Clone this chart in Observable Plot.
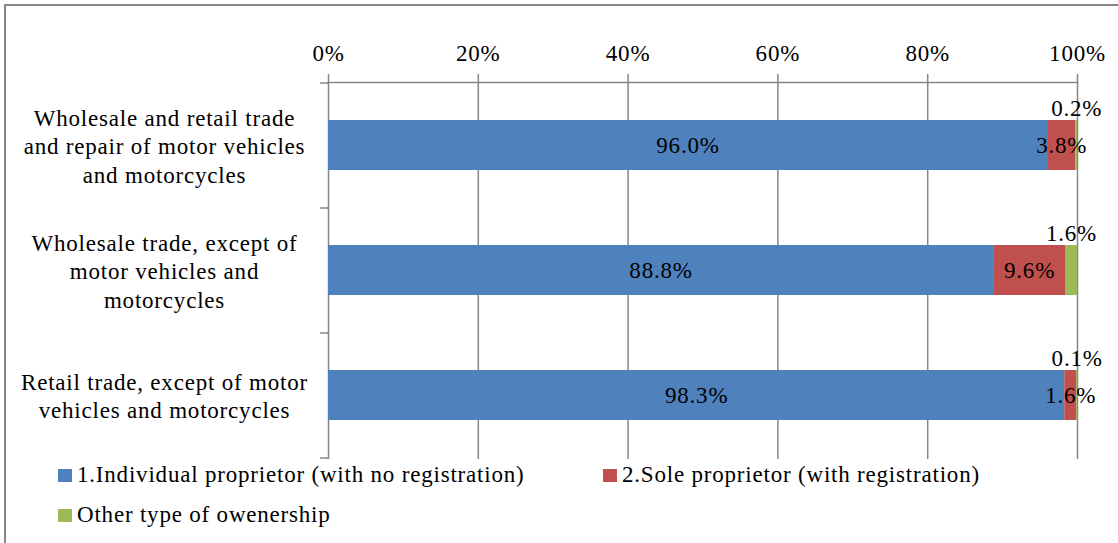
<!DOCTYPE html>
<html><head><meta charset="utf-8">
<script src="https://cdn.jsdelivr.net/npm/d3@7"></script>
<script src="https://cdn.jsdelivr.net/npm/@observablehq/plot@0.6"></script>
<style>
body{margin:0;background:#fff;font-family:"Liberation Serif","Times New Roman",serif;overflow:hidden;}
#frame{position:absolute;left:4px;top:4px;width:1300px;height:700px;border-left:2px solid #868686;border-top:2px solid #868686;}
#chart{position:absolute;left:0;top:0;}
#legend{position:absolute;left:0;top:0;width:1118px;height:543px;font-size:23px;letter-spacing:0.8px;color:#000;}
.item{position:absolute;display:flex;align-items:center;white-space:nowrap;height:30px;}
.sw{display:inline-block;width:14px;height:13px;margin-right:5px;}
</style></head><body>
<div id="frame"></div>
<div id="chart"></div>
<div id="legend"></div>
<script>
const categories = [
  "Wholesale and retail trade and repair of motor vehicles and motorcycles",
  "Wholesale trade, except of motor vehicles and motorcycles",
  "Retail trade, except of motor vehicles and motorcycles"
];
const tickLabels = [
  "Wholesale and retail trade\nand repair of motor vehicles\nand motorcycles",
  "Wholesale trade, except of\nmotor vehicles and\nmotorcycles",
  "Retail trade, except of motor\nvehicles and motorcycles"
];
const types = [
  "1.Individual proprietor (with no registration)",
  "2.Sole proprietor (with registration)",
  "Other type of owenership"
];
const colors = ["#4F81BD", "#C0504D", "#9BBB59"];
const individual = [96.0, 88.8, 98.3];
const sole = [3.8, 9.6, 1.6];
const other = [0.2, 1.6, 0.1];
const labelAbove = [false, false, true];
const xTicks = [0, 20, 40, 60, 80, 100];

const series = [individual, sole, other];
const rows = [];
categories.forEach((c, i) => {
  let acc = 0;
  series.forEach((s, k) => {
    rows.push({category: c, type: types[k], value: s[i], x1: acc, x2: acc + s[i], above: labelAbove[k]});
    acc += s[i];
  });
});

const gray = "#868686";
const bandTicks = (index, scales, values, dims) => {
  const y = scales.y;
  const bw = typeof y.bandwidth === "function" ? y.bandwidth() : y.bandwidth;
  const pos = categories.map(c => y(c));
  pos.push(y(categories[categories.length - 1]) + bw);
  const g = d3.create("svg:g").attr("stroke", gray).attr("stroke-width", 1.5);
  pos.forEach(p => g.append("line").attr("x1", dims.marginLeft - 8).attr("x2", dims.marginLeft).attr("y1", p).attr("y2", p));
  return g.node();
};

const chart = Plot.plot({
  width: 1118,
  height: 543,
  marginTop: 82,
  marginLeft: 328,
  marginRight: 41,
  marginBottom: 84,
  style: {fontFamily: "'Liberation Serif', 'Times New Roman', serif", fontSize: "23px", letterSpacing: "0.8px", color: "#000", background: "transparent"},
  x: {domain: [0, 100]},
  y: {domain: categories, padding: 0},
  color: {domain: types, range: colors},
  marks: [
    Plot.ruleX(xTicks, {stroke: gray, strokeWidth: 1.5}),
    Plot.frame({anchor: "top", stroke: gray, strokeWidth: 1.5}),
    Plot.axisX(xTicks, {anchor: "top", tickSize: 9, tickPadding: 13, stroke: gray, strokeWidth: 1.5, tickFormat: d => d + "%", fontSize: 23, fill: "#000"}),
    Plot.axisY({ticks: [], label: null}),
    bandTicks,
    Plot.barX(rows, {x1: "x1", x2: "x2", y: "category", fill: "type", insetTop: 37, insetBottom: 38}),
    Plot.text(categories, {x: 0, y: d => d, text: (d, i) => tickLabels[i], dx: -164, dy: -1, textAnchor: "middle", lineHeight: 1.24, fontSize: 23, fill: "#000"}),
    Plot.text(rows.filter(d => !d.above), {x: d => (d.x1 + d.x2) / 2, y: "category", text: d => d.value.toFixed(1) + "%", fontSize: 23, fill: "#000"}),
    Plot.text(rows.filter(d => d.above), {x: d => (d.x1 + d.x2) / 2, y: "category", text: d => d.value.toFixed(1) + "%", dy: -37, fontSize: 23, fill: "#000"})
  ]
});
document.getElementById("chart").appendChild(chart);

const legendPos = [[58, 460], [603, 460], [58, 500]];
const legend = document.getElementById("legend");
types.forEach((t, i) => {
  const it = document.createElement("div");
  it.className = "item";
  it.style.left = legendPos[i][0] + "px";
  it.style.top = legendPos[i][1] + "px";
  const sw = document.createElement("span");
  sw.className = "sw";
  sw.style.background = colors[i];
  it.appendChild(sw);
  it.appendChild(document.createTextNode(t));
  legend.appendChild(it);
});
</script>
</body></html>
